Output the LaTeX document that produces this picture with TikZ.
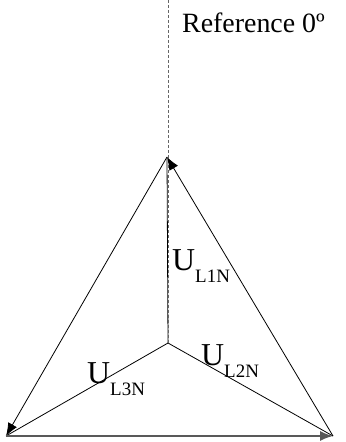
\documentclass[tikz,border=0pt]{standalone}
\usepackage{fontspec}
\setmainfont{Liberation Serif}
\usetikzlibrary{arrows.meta}
\newcommand{\ulabel}[1]{{\fontsize{32}{32}\selectfont U}\raisebox{-12bp}{\fontsize{19}{19}\selectfont #1}}
\tikzset{
  phasor/.style={-{Latex[length=13bp,width=10bp]},line width=0.8bp},
  leg/.style={line width=0.8bp},
  refline/.style={line width=0.8bp,gray!80!black,dash pattern=on 3bp off 2bp}
}
\begin{document}
\begin{tikzpicture}[x=1bp,y=-1bp]
\useasboundingbox (0,0) rectangle (345,442);
\coordinate (R) at (168,0);
\coordinate (N) at (168,343);
\coordinate (A) at (167,157);
\coordinate (B) at (6,436);
\coordinate (C) at (333,436);

% phase voltages
\draw[leg] (N) -- (A);
\draw[leg] (N) -- (B);
\draw[leg] (N) -- (C);
\draw[refline] (R) -- (N);
\node[anchor=base west,inner sep=0pt,font=\fontsize{28}{28}\selectfont] (ref) at (182,33) {Reference 0º};

% line voltages
\draw[phasor] (A) -- (B);
\draw[phasor,line width=1.6bp,gray!70!black] (B) -- (C);
\draw[phasor] (C) -- (A);

\node[anchor=base west,inner sep=0pt] (u1) at (172,270) {\ulabel{L1N}};
\node[anchor=base west,inner sep=0pt] (u2) at (201,365) {\ulabel{L2N}};
\node[anchor=base west,inner sep=0pt] (u3) at (87,383) {\ulabel{L3N}};
\end{tikzpicture}
\end{document}
